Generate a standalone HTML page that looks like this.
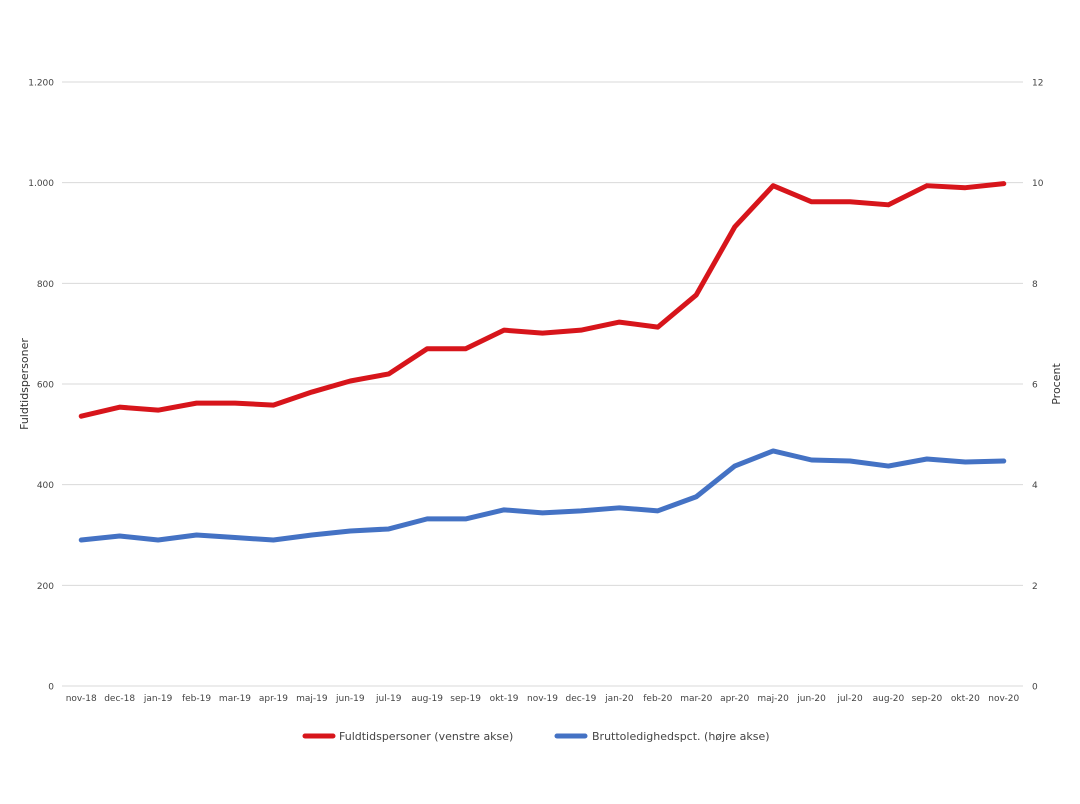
<!DOCTYPE html>
<html><head><meta charset="utf-8"><style>
body{margin:0;background:#fff;font-family:"DejaVu Sans","Liberation Sans",sans-serif}
svg text{font-family:"DejaVu Sans","Liberation Sans",sans-serif}
</style></head><body>
<svg id="chart" width="1080" height="800" xmlns="http://www.w3.org/2000/svg">
<rect width="1080" height="800" fill="#fff"/>
<g id="grid"></g><g id="xlabels"></g><g id="series"></g>
<text transform="translate(28,384) rotate(-90)" text-anchor="middle" font-size="11" fill="#333">Fuldtidspersoner</text>
<text transform="translate(1060,384) rotate(-90)" text-anchor="middle" font-size="11" fill="#333">Procent</text>
<g>
<line x1="305" y1="736" x2="333" y2="736" stroke="#d7151b" stroke-width="5" stroke-linecap="round"/>
<text x="339" y="740" font-size="11" fill="#444">Fuldtidspersoner (venstre akse)</text>
<line x1="557" y1="736" x2="585" y2="736" stroke="#4472c4" stroke-width="5" stroke-linecap="round"/>
<text x="592" y="740" font-size="11" fill="#444">Bruttoledighedspct. (højre akse)</text>
</g>
</svg>
<script>
const categories=["nov-18","dec-18","jan-19","feb-19","mar-19","apr-19","maj-19","jun-19","jul-19","aug-19","sep-19","okt-19","nov-19","dec-19","jan-20","feb-20","mar-20","apr-20","maj-20","jun-20","jul-20","aug-20","sep-20","okt-20","nov-20"];
const fuldtid=[536,554,548,562,562,558,584,606,620,670,670,707,701,707,723,713,777,912,994,962,962,956,994,990,998];
const procent=[2.9,2.98,2.9,3.0,2.95,2.9,3.0,3.08,3.12,3.32,3.32,3.5,3.44,3.48,3.54,3.48,3.76,4.37,4.67,4.49,4.47,4.37,4.51,4.45,4.47];
const leftTicks=[0,200,400,600,800,1000,1200];
const leftTickLabels=["0","200","400","600","800","1.000","1.200"];
const rightTicks=[0,2,4,6,8,10,12];
const NS="http://www.w3.org/2000/svg";
const L=62,R=1023,T=82,B=686;
const band=(R-L)/categories.length;
const x=i=>L+band*(i+0.5);
const yL=v=>B-(v/1200)*(B-T);
const yR=v=>B-(v/12)*(B-T);
function mk(tag,attrs,parent){const e=document.createElementNS(NS,tag);for(const k in attrs)e.setAttribute(k,attrs[k]);parent.appendChild(e);return e;}
const grid=document.getElementById('grid');
leftTicks.forEach((t,i)=>{
  const ln=mk('line',{x1:L,x2:R,y1:yL(t),y2:yL(t),stroke:'#d9d9d9','stroke-width':1},grid);
  
  
  const tx=mk('text',{x:54,y:yL(t)+3.5,'text-anchor':'end','font-size':9,fill:'#444'},grid);
  tx.textContent=leftTickLabels[i];
  
  
});
rightTicks.forEach(t=>{
  const tx=mk('text',{x:1032,y:yR(t)+3.5,'text-anchor':'start','font-size':9,fill:'#444'},grid);
  tx.textContent=String(t);
  
  
});
const xl=document.getElementById('xlabels');
categories.forEach((c,i)=>{
  const tx=mk('text',{x:x(i),y:701,'text-anchor':'middle','font-size':9,fill:'#444'},xl);
  tx.textContent=c;
  
  
});
const sg=document.getElementById('series');
const p1=mk('polyline',{points:fuldtid.map((v,i)=>x(i)+','+yL(v)).join(' '),fill:'none',stroke:'#d7151b','stroke-width':5,'stroke-linejoin':'round','stroke-linecap':'round'},sg);


const p2=mk('polyline',{points:procent.map((v,i)=>x(i)+','+yR(v)).join(' '),fill:'none',stroke:'#4472c4','stroke-width':5,'stroke-linejoin':'round','stroke-linecap':'round'},sg);


</script>
</body></html>
